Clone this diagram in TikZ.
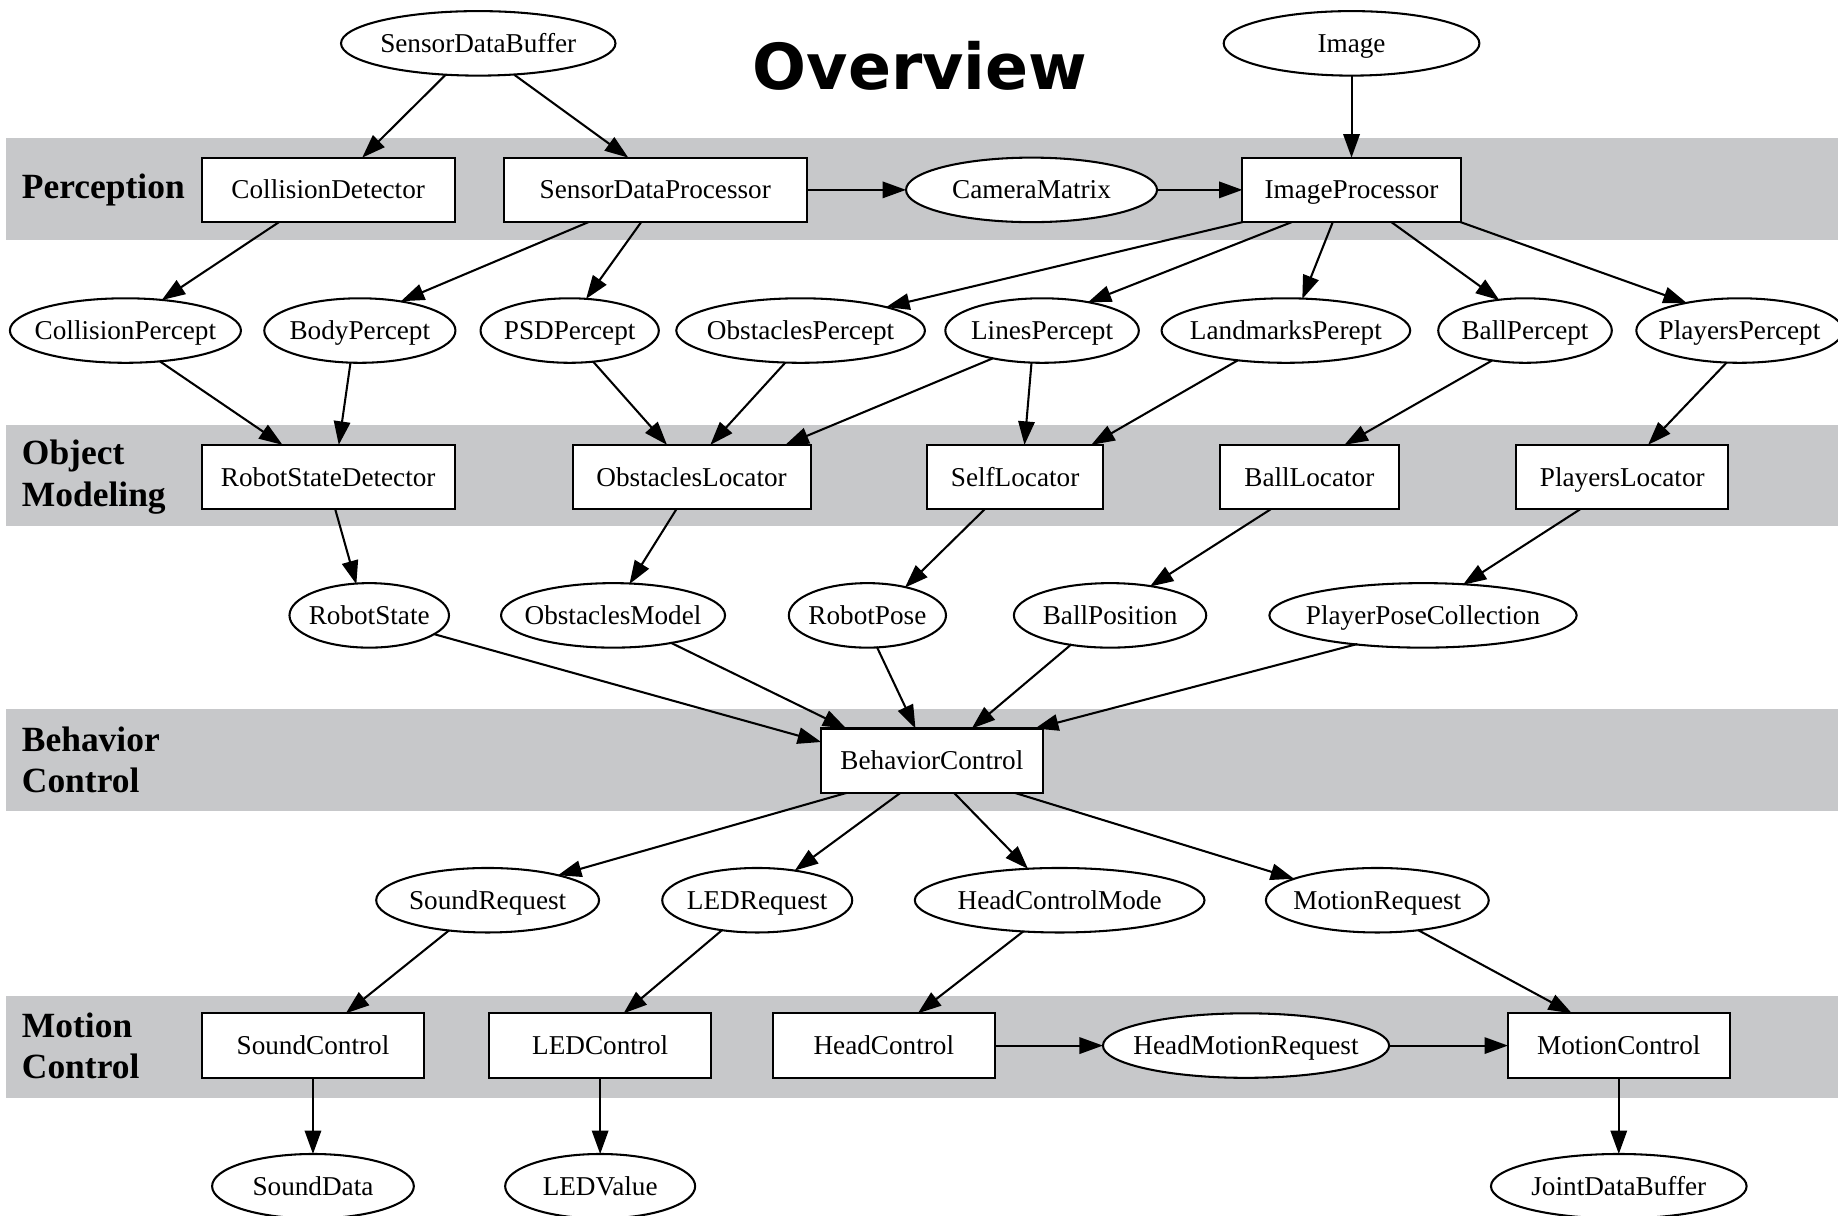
\documentclass[tikz,border=0pt]{standalone}
\usepackage{fontspec}
\setmainfont{Liberation Serif}
\newfontfamily\headfont{DejaVu Sans}
\usetikzlibrary{shapes.geometric,arrows.meta,calc}
\definecolor{bandgray}{RGB}{199,200,202}
% text of an oval does not widen it: the oval keeps its set size
\newcommand{\lbl}[1]{\makebox[0pt][c]{#1}}
\begin{document}
\begin{tikzpicture}[x=0.01cm,y=-0.01cm,
  every node/.style={font=\fontsize{6.6pt}{8pt}\selectfont},
  box/.style={draw,rectangle,line width=0.5pt,fill=white,inner sep=0pt,outer sep=0pt,
    minimum height=0.55cm,text height=5.9pt,text depth=1.5pt},
  oval/.style={draw,ellipse,line width=0.5pt,fill=white,inner sep=0pt,outer sep=0pt,
    minimum height=0.55cm,text height=5.9pt,text depth=1.5pt},
  edge/.style={-{Triangle[length=2mm,width=1.4mm]},line width=0.5pt},
  lane/.style={font=\fontsize{8.6pt}{10pt}\selectfont\bfseries,align=left,anchor=west,inner sep=0pt},
  title/.style={font=\headfont\bfseries\fontsize{15.4pt}{18pt}\selectfont,inner sep=0pt}]
\useasboundingbox (0,0) rectangle (1568,1037);

% layer bands
\fill[bandgray] (5,118) rectangle (1568,205);
\fill[bandgray] (5,363) rectangle (1568,449);
\fill[bandgray] (5,605) rectangle (1568,692);
\fill[bandgray] (5,850) rectangle (1568,937);

\node[lane] (lperc) at (18,162) {Perception};
\node[lane] (lmod) at (18,407) {Object\\Modeling};
\node[lane] (lbeh) at (18,648) {Behavior\\Control};
\node[lane] (lmot) at (18,892) {Motion\\Control};

\node[title] (ttl) at (785,56) {Overview};

% inputs
\node[oval,minimum width=2.34cm] (sdb) at (408,37) {\lbl{SensorDataBuffer}};
\node[oval,minimum width=2.18cm] (img) at (1153,37) {\lbl{Image}};

% perception
\node[box,minimum width=2.16cm] (cd) at (280,162) {CollisionDetector};
\node[box,minimum width=2.58cm] (sdp) at (559,162) {SensorDataProcessor};
\node[oval,minimum width=2.14cm] (cam) at (880,162) {\lbl{CameraMatrix}};
\node[box,minimum width=1.86cm] (ip) at (1153,162) {ImageProcessor};

% percepts
\node[oval,minimum width=1.97cm] (colp) at (107,282) {\lbl{CollisionPercept}};
\node[oval,minimum width=1.63cm] (bodyp) at (307,282) {\lbl{BodyPercept}};
\node[oval,minimum width=1.52cm] (psdp) at (486,282) {\lbl{PSDPercept}};
\node[oval,minimum width=2.12cm] (obsp) at (683,282) {\lbl{ObstaclesPercept}};
\node[oval,minimum width=1.65cm] (linp) at (889,282) {\lbl{LinesPercept}};
\node[oval,minimum width=2.12cm] (lmp) at (1097,282) {\lbl{LandmarksPerept}};
\node[oval,minimum width=1.48cm] (ballp) at (1301,282) {\lbl{BallPercept}};
\node[oval,minimum width=1.76cm] (plp) at (1484,282) {\lbl{PlayersPercept}};

% object modeling
\node[box,minimum width=2.16cm] (rsd) at (280,407) {RobotStateDetector};
\node[box,minimum width=2.03cm] (obl) at (590,407) {ObstaclesLocator};
\node[box,minimum width=1.50cm] (sl) at (866,407) {SelfLocator};
\node[box,minimum width=1.53cm] (bl) at (1117,407) {BallLocator};
\node[box,minimum width=1.81cm] (pl) at (1384,407) {PlayersLocator};

% models
\node[oval,minimum width=1.36cm] (rs) at (315,525) {\lbl{RobotState}};
\node[oval,minimum width=1.91cm] (om) at (523,525) {\lbl{ObstaclesModel}};
\node[oval,minimum width=1.34cm] (rp) at (740,525) {\lbl{RobotPose}};
\node[oval,minimum width=1.64cm] (bp) at (947,525) {\lbl{BallPosition}};
\node[oval,minimum width=2.62cm] (ppc) at (1214,525) {\lbl{PlayerPoseCollection}};

% behavior
\node[box,minimum width=1.89cm] (bc) at (795,649) {BehaviorControl};

% requests
\node[oval,minimum width=1.90cm] (sr) at (416,768) {\lbl{SoundRequest}};
\node[oval,minimum width=1.62cm] (ledr) at (646,768) {\lbl{LEDRequest}};
\node[oval,minimum width=2.47cm] (hcm) at (904,768) {\lbl{HeadControlMode}};
\node[oval,minimum width=1.90cm] (mr) at (1175,768) {\lbl{MotionRequest}};

% motion control
\node[box,minimum width=1.90cm] (sc) at (267,892) {SoundControl};
\node[box,minimum width=1.89cm] (ledc) at (512,892) {LEDControl};
\node[box,minimum width=1.89cm] (hc) at (754,892) {HeadControl};
\node[oval,minimum width=2.44cm] (hmr) at (1063,892) {\lbl{HeadMotionRequest}};
\node[box,minimum width=1.89cm] (mc) at (1381,892) {MotionControl};

% outputs
\node[oval,minimum width=1.72cm] (sd) at (267,1012) {\lbl{SoundData}};
\node[oval,minimum width=1.62cm] (lv) at (512,1012) {\lbl{LEDValue}};
\node[oval,minimum width=2.18cm] (jdb) at (1381,1012) {\lbl{JointDataBuffer}};

% connectors
\draw[edge] ($(sdb)+(-28,27)$) -- ($(cd)+(29,-27.5)$);
\draw[edge] ($(sdb)+(31,27)$) -- ($(sdp)+(-23,-27.5)$);
\draw[edge] (img) -- (ip);
\draw[edge] (sdp) -- (cam);
\draw[edge] (cam) -- (ip);

\draw[edge] ($(cd)+(-42,27.5)$) -- ($(colp)+(31,-26)$);
\draw[edge] ($(sdp)+(-57,27.5)$) -- ($(bodyp)+(35,-25)$);
\draw[edge] ($(sdp)+(-12,27.5)$) -- ($(psdp)+(14,-27)$);
\draw[edge] ($(ip)+(-93,27.5)$) -- ($(obsp)+(73,-20)$);
\draw[edge] ($(ip)+(-51,27.5)$) -- ($(linp)+(39,-24)$);
\draw[edge] ($(ip)+(-16,27.5)$) -- ($(lmp)+(14,-27)$);
\draw[edge] ($(ip)+(34,27.5)$) -- ($(ballp)+(-22,-26)$);
\draw[edge] ($(ip)+(93,27.5)$) -- ($(plp)+(-45,-23.5)$);

\draw[edge] ($(colp)+(29,26)$) -- ($(rsd)+(-39,-27.5)$);
\draw[edge] ($(bodyp)+(-8,27.5)$) -- ($(rsd)+(9,-27.5)$);
\draw[edge] ($(psdp)+(20,26.5)$) -- ($(obl)+(-21,-27.5)$);
\draw[edge] ($(obsp)+(-13,27.3)$) -- ($(obl)+(16,-27.5)$);
\draw[edge] ($(linp)+(-42,23.7)$) -- ($(obl)+(80,-27.5)$);
\draw[edge] ($(linp)+(-9,27.3)$) -- ($(sl)+(8,-27.5)$);
\draw[edge] ($(lmp)+(-41,25.4)$) -- ($(sl)+(65,-27.5)$);
\draw[edge] ($(ballp)+(-28,25.5)$) -- ($(bl)+(30,-27.5)$);
\draw[edge] ($(plp)+(-11,27.3)$) -- ($(pl)+(22,-27.5)$);

\draw[edge] ($(rsd)+(6,27.5)$) -- ($(rs)+(-11,-26.6)$);
\draw[edge] ($(obl)+(-13,27.5)$) -- ($(om)+(14,-26.7)$);
\draw[edge] ($(sl)+(-26,27.5)$) -- ($(rp)+(32,-23.7)$);
\draw[edge] ($(bl)+(-33,27.5)$) -- ($(bp)+(34,-24.6)$);
\draw[edge] ($(pl)+(-36,27.5)$) -- ($(ppc)+(34,-26.1)$);

\draw[edge] ($(rs)+(55,15.9)$) -- ($(bc)+(-94.5,-16)$);
\draw[edge] ($(om)+(49,23.2)$) -- ($(bc)+(-73,-27.5)$);
\draw[edge] ($(rp)+(8,26.8)$) -- ($(bc)+(-14,-27.5)$);
\draw[edge] ($(bp)+(-33,24.7)$) -- ($(bc)+(34,-27.5)$);
\draw[edge] ($(ppc)+(-56,24.4)$) -- ($(bc)+(88,-27.5)$);

\draw[edge] ($(bc)+(-73,27.5)$) -- ($(sr)+(60,-21.3)$);
\draw[edge] ($(bc)+(-27,27.5)$) -- ($(ledr)+(32,-25.3)$);
\draw[edge] ($(bc)+(19,27.5)$) -- ($(hcm)+(-27,-26.8)$);
\draw[edge] ($(bc)+(71,27.5)$) -- ($(mr)+(-71,-18.3)$);

\draw[edge] ($(sr)+(-33,25.8)$) -- ($(sc)+(28,-27.5)$);
\draw[edge] ($(ledr)+(-30,25.5)$) -- ($(ledc)+(20,-27.5)$);
\draw[edge] ($(hcm)+(-31,26.6)$) -- ($(hc)+(29,-27.5)$);
\draw[edge] ($(mr)+(35,25.6)$) -- ($(mc)+(-40,-27.5)$);
\draw[edge] (hc) -- (hmr);
\draw[edge] (hmr) -- (mc);

\draw[edge] (sc) -- (sd);
\draw[edge] (ledc) -- (lv);
\draw[edge] (mc) -- (jdb);
\end{tikzpicture}
\end{document}
